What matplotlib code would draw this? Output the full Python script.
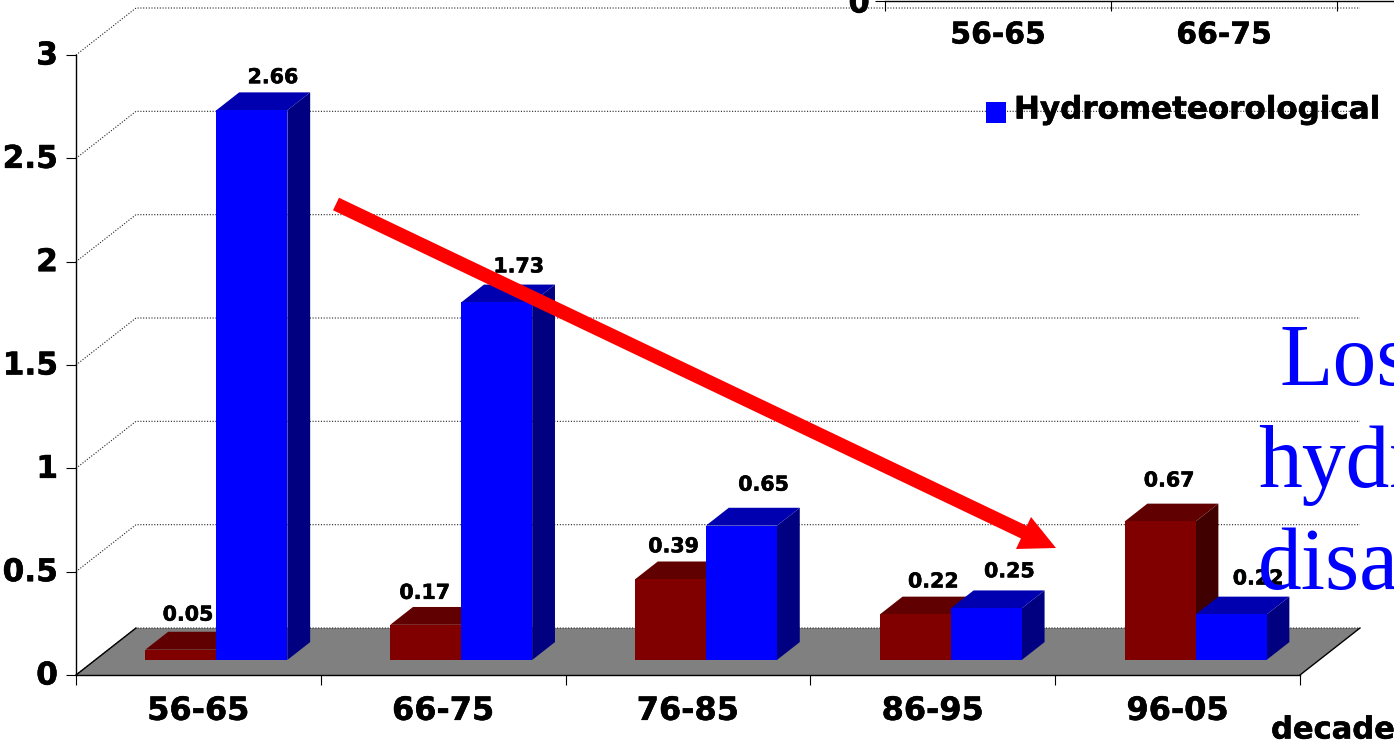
import matplotlib
matplotlib.use('Agg')
import matplotlib.pyplot as plt
import matplotlib.patheffects as pe
from matplotlib.patches import Polygon
from matplotlib.transforms import Affine2D

decades = ['56-65', '66-75', '76-85', '86-95', '96-05']
geological = [0.05, 0.17, 0.39, 0.22, 0.67]
hydromet = [2.66, 1.73, 0.65, 0.25, 0.22]
y_ticks = [0, 0.5, 1, 1.5, 2, 2.5, 3]
y_labels = ['0', '0.5', '1', '1.5', '2', '2.5', '3']
top_labels = ['56-65', '66-75']

W, H = 1394, 744
# pixels per unit, used to place the fake 3d depth
XD = 60 / 244.8
YD = 47 / 206.7
HEAVY = [pe.withStroke(linewidth=0.4, foreground='black')]

fig = plt.figure(figsize=(W / 100, H / 100), dpi=100, facecolor='white')
plt.rcParams['font.family'] = 'DejaVu Sans'
ax = fig.add_axes([76 / W, (H - 675) / H, 1224 / W, 620 / H])
ax.set_xlim(0, 5)
ax.set_ylim(0, 3)
ax.patch.set_visible(False)
for s in ['top', 'right']:
    ax.spines[s].set_visible(False)
ax.spines['left'].set_linewidth(1.0)
ax.spines['bottom'].set_linewidth(1.0)

# y axis and decades
ax.set_yticks(y_ticks)
ax.set_yticklabels(y_labels, fontsize=22.5, fontweight='bold', path_effects=HEAVY)
ax.tick_params(axis='y', length=7, width=0.8, pad=6)
for lab in ax.get_yticklabels():
    lab.set_transform(lab.get_transform() + Affine2D().translate(0, 2))
ax.set_xticks(range(6))
ax.set_xticklabels([])
ax.tick_params(axis='x', length=7, width=0.8)
ax.set_xticks([i + 0.5 for i in range(5)], minor=True)
ax.set_xticklabels(decades, minor=True, fontsize=23, fontweight='bold', path_effects=HEAVY)
ax.tick_params(axis='x', which='minor', length=0, pad=15)

# floor
ax.add_patch(Polygon([(0, 0), (5, 0), (5 + XD, YD), (XD, YD)], closed=True,
                     facecolor='#808080', edgecolor='none', zorder=1, clip_on=False))
ax.plot([0, XD], [0, YD], color='black', lw=1, zorder=2, clip_on=False)
ax.plot([5, 5 + XD], [0, YD], color='black', lw=1, zorder=2, clip_on=False)

# walls
for t in y_ticks:
    ax.plot([0, XD, 5 + XD], [t, t + YD, t + YD], color='#222222', lw=0.8,
            ls=(0, (1, 1.5)), zorder=1.5, clip_on=False)


def bar3d(x0, w, v, front, side, top, z):
    d0, d1 = 0.32, 0.70
    xa = x0 + d0 * XD
    xb = x0 + d1 * XD
    ya = d0 * YD
    yb = d1 * YD
    ax.add_patch(Polygon([(xa + w, ya), (xb + w, yb), (xb + w, yb + v), (xa + w, ya + v)],
                         facecolor=side, edgecolor='none', zorder=z, clip_on=False))
    ax.add_patch(Polygon([(xa, ya + v), (xa + w, ya + v), (xb + w, yb + v), (xb, yb + v)],
                         facecolor=top, edgecolor='none', zorder=z, clip_on=False))
    ax.add_patch(Polygon([(xa, ya), (xa + w, ya), (xa + w, ya + v), (xa, ya + v)],
                         facecolor=front, edgecolor='none', zorder=z, clip_on=False))


BW = 0.29
LEFT = 0.205
for i in range(5):
    bar3d(i + LEFT, BW, geological[i], '#800000', '#400000', '#600000', 3 + i * 0.1)
    bar3d(i + LEFT + BW, BW, hydromet[i], '#0000ff', '#000080', '#0000b0', 3.05 + i * 0.1)

# value labels, nudged by hand like in the original
red_dx = [7, -1, 3, 18, 9]
red_dy = [35, 32, 33, 33, 41]
blue_dx = [21, 22, 22, 23, 27]
blue_dy = [33, 36, 41, 37, 36]
for i in range(5):
    xr = i + LEFT + 0.32 * XD + BW / 2
    ax.annotate(f'{geological[i]:.2f}', (xr, geological[i] + 0.32 * YD), xycoords='data',
                xytext=(red_dx[i] * 0.72, red_dy[i] * 0.72), textcoords='offset points',
                ha='center', va='center', fontsize=14.8, fontweight='bold', zorder=6,
                path_effects=HEAVY)
    xb = xr + BW
    ax.annotate(f'{hydromet[i]:.2f}', (xb, hydromet[i] + 0.32 * YD), xycoords='data',
                xytext=(blue_dx[i] * 0.72, blue_dy[i] * 0.72), textcoords='offset points',
                ha='center', va='center', fontsize=14.8, fontweight='bold', zorder=6,
                path_effects=HEAVY)

# leftover chart hanging off the top edge
ax2 = fig.add_axes([885 / W, (H - 1) / H, (W - 885) / W, 0.5 / H])
ax2.set_xlim(0, (W - 885) / 226)
ax2.patch.set_visible(False)
for s in ['top', 'right']:
    ax2.spines[s].set_visible(False)
ax2.spines['bottom'].set_linewidth(1.0)
ax2.spines['left'].set_linewidth(1.0)
ax2.set_yticks([0])
ax2.set_yticklabels(['0'], fontsize=22, fontweight='bold', path_effects=HEAVY)
ax2.tick_params(axis='y', length=7, width=0.8, pad=4)
ax2.set_xticks([0, 1, 2])
ax2.set_xticklabels([])
ax2.tick_params(axis='x', length=7, width=0.8)
ax2.set_xticks([0.5, 1.5], minor=True)
ax2.set_xticklabels(top_labels, minor=True, fontsize=21.5, fontweight='bold', path_effects=HEAVY)
ax2.tick_params(axis='x', which='minor', length=0, pad=14)

# pixel transform for the annotations sitting on top
px = Affine2D().scale(1, -1).translate(0, H)

fig.patches.append(Polygon([(986, 102), (1006, 102), (1006, 123), (986, 123)],
                           transform=px, facecolor='#0000ff', edgecolor='none', zorder=7))
fig.text(1014, 110, 'Hydrometeorological', transform=px, fontsize=22.3, fontweight='bold',
         ha='left', va='center', zorder=7, path_effects=HEAVY)
fig.text(1271, 730, 'decade', transform=px, fontsize=22, fontweight='bold',
         ha='left', va='center', zorder=7, path_effects=HEAVY)

# red arrow
fig.add_artist(plt.Line2D([336, 1032], [204, 536], transform=px, color='#ff0000', lw=10,
                          solid_capstyle='butt', zorder=8))
fig.patches.append(Polygon([(1056, 548), (1016, 549), (1031, 517)], transform=px,
                           facecolor='#ff0000', edgecolor='none', zorder=8))

for txt, x, y in [('Los', 1280, 385), ('hydr', 1258, 487), ('disa', 1258, 589)]:
    fig.text(x, y, txt, transform=px, fontsize=63, family='Liberation Serif',
             color='#0000ff', ha='left', va='baseline', zorder=9)

plt.savefig('out.png', dpi=100)
